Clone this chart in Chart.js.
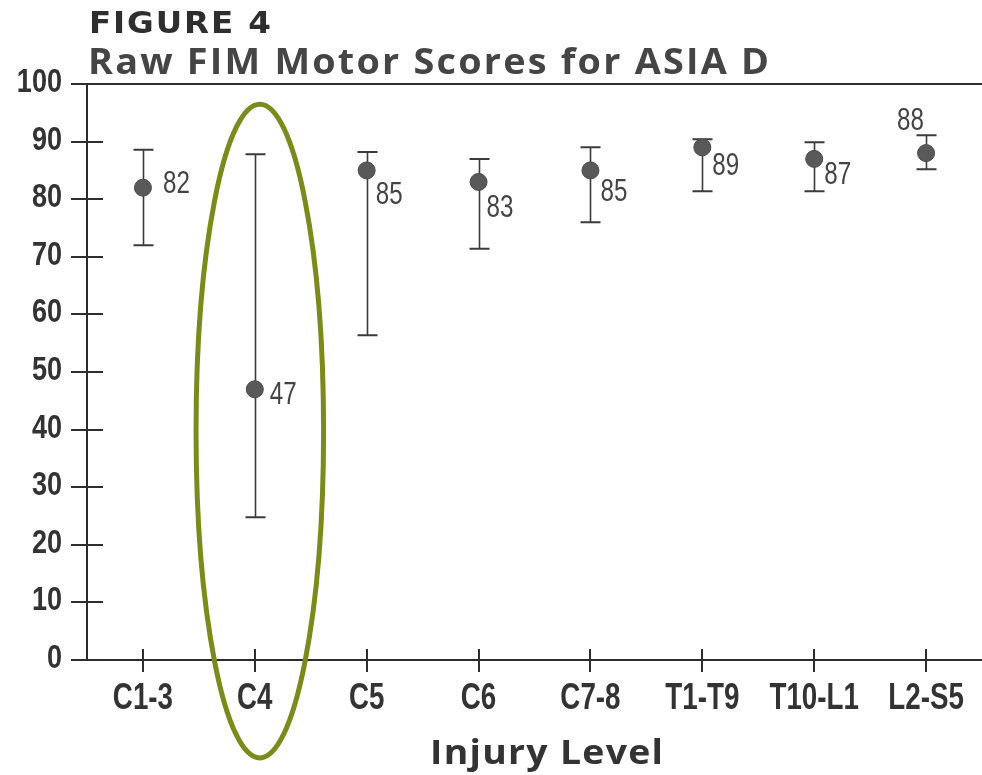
<!DOCTYPE html>
<html>
<head>
<meta charset="utf-8">
<title>Raw FIM Motor Scores for ASIA D</title>
<script src="https://cdn.jsdelivr.net/npm/chart.js@4/dist/chart.umd.min.js"></script>
<style>
  html, body { margin: 0; padding: 0; background: #ffffff; }
  #wrap { width: 982px; height: 775px; }
</style>
</head>
<body>
<div id="wrap"><canvas id="chart" width="982" height="775"></canvas></div>
<script>
// Injury levels along the x axis
const injuryLevels = ['C1-3', 'C4', 'C5', 'C6', 'C7-8', 'T1-T9', 'T10-L1', 'L2-S5'];
// Mean raw FIM motor score per level
const meanScores = [82, 47, 85, 83, 85, 89, 87, 88];
// Lower and upper ends of each error bar
const lowerBounds = [72, 24.8, 56.4, 71.4, 76, 81.4, 81.4, 85.2];
const upperBounds = [88.6, 87.8, 88.2, 87, 89, 90.4, 89.9, 91.1];
// Y axis range and step
const yMin = 0;
const yMax = 100;
const yStep = 10;

const SANS = '"Liberation Sans", Arial, sans-serif';

// Draw text squeezed or stretched horizontally; align: 'left' | 'center' | 'right'
function drawScaled(ctx, text, x, y, sx, align) {
  ctx.save();
  ctx.translate(x, y);
  ctx.scale(sx, 1);
  ctx.textAlign = align;
  ctx.fillText(text, 0, 0);
  ctx.restore();
}

// Draw text with its letters spread to fill a given width
function drawTracked(ctx, text, x, y, width, sx) {
  const chars = Array.from(text);
  const widths = chars.map(c => ctx.measureText(c).width * sx);
  const natural = widths.reduce((a, b) => a + b, 0);
  const gap = chars.length > 1 ? (width - natural) / (chars.length - 1) : 0;
  let cx = x;
  chars.forEach((c, i) => { drawScaled(ctx, c, cx, y, sx, 'left'); cx += widths[i] + gap; });
}

// Error bars with caps, drawn beneath the markers
const errorBarPlugin = {
  id: 'errorBars',
  beforeDatasetsDraw(chart, args, opts) {
    const { ctx, scales: { x, y } } = chart;
    ctx.save();
    ctx.strokeStyle = opts.color;
    injuryLevels.forEach((lvl, i) => {
      const px = Math.round(x.getPixelForValue(i)) + 0.5;
      const top = y.getPixelForValue(upperBounds[i]);
      const bot = y.getPixelForValue(lowerBounds[i]);
      ctx.lineWidth = opts.lineWidth;
      ctx.beginPath();
      ctx.moveTo(px, top); ctx.lineTo(px, bot);
      ctx.stroke();
      ctx.lineWidth = opts.capWidth;
      ctx.beginPath();
      ctx.moveTo(px - opts.capHalf, top); ctx.lineTo(px + opts.capHalf, top);
      ctx.moveTo(px - opts.capHalf, bot); ctx.lineTo(px + opts.capHalf, bot);
      ctx.stroke();
    });
    ctx.restore();
  }
};

// Axis tick marks (crossing the axis lines), tick labels, and the rule along the top value
const axisDecorPlugin = {
  id: 'axisDecor',
  afterDraw(chart, args, opts) {
    const { ctx, chartArea, scales: { x, y } } = chart;
    ctx.save();
    ctx.strokeStyle = opts.color;
    ctx.lineWidth = 2;
    ctx.beginPath();
    y.ticks.forEach(t => {
      const py = Math.round(y.getPixelForValue(t.value));
      ctx.moveTo(chartArea.left - opts.yOuter, py); ctx.lineTo(chartArea.left + opts.yInner, py);
    });
    x.ticks.forEach(t => {
      const px = Math.round(x.getPixelForValue(t.value));
      ctx.moveTo(px, chartArea.bottom + opts.xOuter); ctx.lineTo(px, chartArea.bottom - opts.xInner);
    });
    const top = Math.round(y.getPixelForValue(yMax));
    ctx.moveTo(chartArea.left, top); ctx.lineTo(chartArea.right, top);
    ctx.stroke();

    // Condensed tick labels
    ctx.fillStyle = opts.labelColor;
    ctx.textBaseline = 'alphabetic';
    ctx.font = opts.yFont;
    y.ticks.forEach(t => {
      const py = y.getPixelForValue(t.value);
      drawScaled(ctx, t.label, chartArea.left - opts.yLabelGap, py + opts.yBaseline, opts.yScaleX, 'right');
    });
    ctx.font = opts.xFont;
    x.ticks.forEach(t => {
      const px = x.getPixelForValue(t.value);
      drawScaled(ctx, x.getLabelForValue(t.value), px, chartArea.bottom + opts.xBaseline, opts.xScaleX, 'center');
    });
    ctx.restore();
  }
};

// Value labels beside each marker
const valueLabelPlugin = {
  id: 'valueLabels',
  afterDatasetsDraw(chart, args, opts) {
    const { ctx } = chart;
    const meta = chart.getDatasetMeta(0);
    ctx.save();
    ctx.font = opts.font;
    ctx.fillStyle = opts.color;
    ctx.textBaseline = 'alphabetic';
    meta.data.forEach((pt, i) => {
      const off = opts.offsets[i];
      drawScaled(ctx, String(meanScores[i]), pt.x + off[0], pt.y + off[1], opts.scaleX, 'left');
    });
    ctx.restore();
  }
};

// Ellipse marking one injury level
const highlightPlugin = {
  id: 'highlight',
  afterDraw(chart, args, opts) {
    const { ctx, scales: { x, y } } = chart;
    const cx = x.getPixelForValue(opts.index) + opts.nudge;
    const rx = Math.abs(x.getPixelForValue(opts.index + opts.halfWidth) - x.getPixelForValue(opts.index));
    const top = y.getPixelForValue(opts.top);
    const bot = y.getPixelForValue(opts.bottom);
    ctx.save();
    ctx.strokeStyle = opts.color;
    ctx.lineWidth = opts.lineWidth;
    ctx.beginPath();
    ctx.ellipse(cx, (top + bot) / 2, rx, (bot - top) / 2, 0, 0, Math.PI * 2);
    ctx.stroke();
    ctx.restore();
  }
};

// Figure heading and x axis caption
const headingPlugin = {
  id: 'headings',
  afterDraw(chart, args, opts) {
    const { ctx, chartArea } = chart;
    ctx.save();
    ctx.textBaseline = 'alphabetic';
    opts.lines.forEach(l => {
      ctx.font = l.font;
      ctx.fillStyle = l.color;
      drawTracked(ctx, l.text, l.x, l.y, l.width, l.scaleX);
    });
    const cap = opts.caption;
    ctx.font = cap.font;
    ctx.fillStyle = cap.color;
    const cx = (chartArea.left + chartArea.right) / 2 + cap.shift;
    drawTracked(ctx, cap.text, cx - cap.width / 2, cap.y, cap.width, cap.scaleX);
    ctx.restore();
  }
};

new Chart(document.getElementById('chart'), {
  type: 'line',
  data: {
    labels: injuryLevels,
    datasets: [{
      label: 'Raw FIM Motor Score',
      data: meanScores,
      showLine: false,
      pointRadius: 8.5,
      pointHoverRadius: 8.5,
      pointBackgroundColor: '#595959',
      pointBorderColor: '#4a4a4a',
      pointBorderWidth: 1
    }]
  },
  options: {
    responsive: false,
    animation: false,
    layout: { autoPadding: false, padding: { top: 84, left: 0, right: 0, bottom: 0 } },
    plugins: {
      legend: { display: false },
      tooltip: { enabled: false },
      errorBars: { color: '#3a3a3a', lineWidth: 1.6, capWidth: 2, capHalf: 10 },
      axisDecor: {
        color: '#2e2e2e', yOuter: 16, yInner: 16, xOuter: 12, xInner: 11,
        labelColor: '#333333',
        yFont: 'bold 33px ' + SANS, yScaleX: 0.82, yLabelGap: 25, yBaseline: 8,
        xFont: 'bold 37px ' + SANS, xScaleX: 0.75, xBaseline: 49
      },
      valueLabels: {
        font: '31px ' + SANS,
        color: '#444444',
        scaleX: 0.78,
        offsets: [[20, 5], [15, 15], [9, 34], [8, 35], [10, 31], [10, 28], [10, 25], [-29, -23]]
      },
      highlight: { index: 1, nudge: 5, halfWidth: 0.57, top: 96.5, bottom: -17, color: '#7a8b1c', lineWidth: 5 },
      headings: {
        lines: [
          { text: 'FIGURE 4', font: 'bold 31px "DejaVu Sans", sans-serif', color: '#2e2e2e', x: 89, y: 33, width: 182, scaleX: 1.05 },
          { text: 'Raw FIM Motor Scores for ASIA D', font: 'bold 36px "Open Sans", sans-serif', color: '#454545', x: 88, y: 74, width: 681, scaleX: 1.05 }
        ],
        caption: { text: 'Injury Level', font: 'bold 34px "Open Sans", sans-serif', color: '#333333', y: 764, width: 233, shift: 12, scaleX: 1.1 }
      }
    },
    scales: {
      x: {
        type: 'category',
        offset: true,
        grid: { display: false },
        border: { display: true, color: '#2b2b2b', width: 2 },
        ticks: { display: false, autoSkip: false },
        afterFit(scale) { scale.height = 115; }
      },
      y: {
        min: yMin,
        max: yMax,
        grid: { display: false },
        border: { display: true, color: '#2b2b2b', width: 2 },
        ticks: { display: false, stepSize: yStep },
        afterFit(scale) { scale.width = 87; }
      }
    }
  },
  plugins: [errorBarPlugin, axisDecorPlugin, valueLabelPlugin, highlightPlugin, headingPlugin]
});
</script>
</body>
</html>
